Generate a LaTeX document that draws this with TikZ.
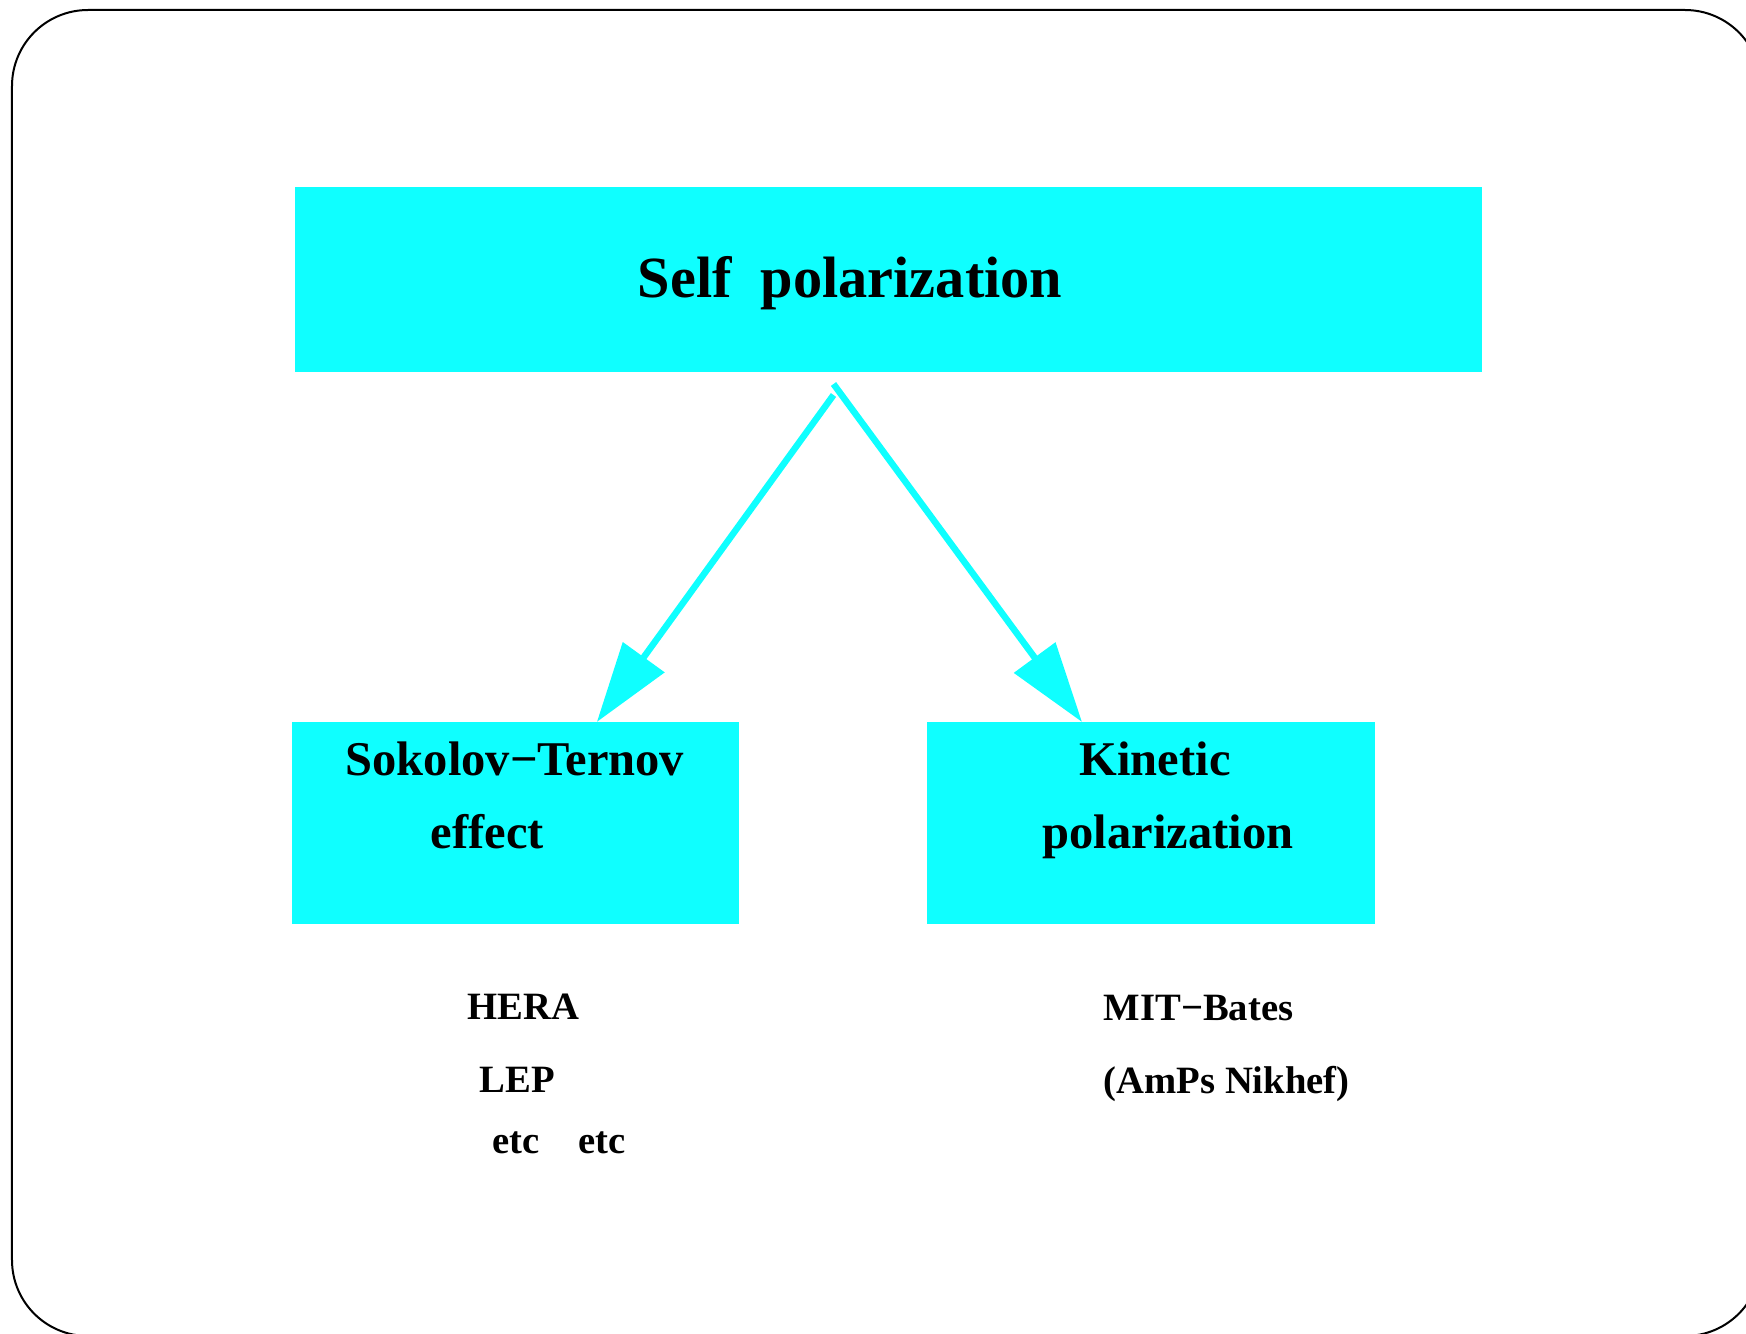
\documentclass[tikz,border=0pt]{standalone}
\usepackage{fontspec}
\setmainfont{Liberation Serif}
\usepackage{xcolor}
\usetikzlibrary{arrows.meta}
\usetikzlibrary{calc}
\definecolor{boxcyan}{RGB}{15,255,255}

\begin{document}
\begin{tikzpicture}[
  box/.style={fill=boxcyan, inner sep=0pt, outer sep=0pt},
  flow/.style={draw=boxcyan, fill=boxcyan, line width=0.065cm, -{Triangle[length=0.8cm,width=0.5cm]}},
  bigtext/.style={anchor=base west, inner sep=0pt, font=\bfseries\fontsize{16.6}{20}\selectfont},
  boxtext/.style={anchor=base west, inner sep=0pt, font=\bfseries\fontsize{13.8}{16}\selectfont},
  smalltext/.style={anchor=base west, inner sep=0pt, font=\bfseries\fontsize{11}{13}\selectfont}]
\useasboundingbox (0,0) rectangle (17.46,-13.34);
\draw[line width=0.02cm, rounded corners=0.76cm] (0.12,-0.10) rectangle (17.61,-13.36);

\node[box, minimum width=11.87cm, minimum height=1.85cm] (self) at (8.885,-2.795) {};
\node[box, minimum width=4.47cm, minimum height=2.02cm] (st) at (5.155,-8.23) {};
\node[box, minimum width=4.48cm, minimum height=2.02cm] (kin) at (11.51,-8.23) {};

\node[bigtext] (selftxt) at (6.37,-2.98) {Self~~polarization};
\node[boxtext] (sttxt) at (3.45,-7.75) {Sokolov−Ternov};
\node[boxtext] (efftxt) at (4.30,-8.48) {effect};
\node[boxtext] (kintxt) at (10.79,-7.75) {Kinetic};
\node[boxtext] (poltxt) at (10.42,-8.48) {polarization};

\node[smalltext] (hera) at (4.67,-10.19) {HERA};
\node[smalltext] (lep) at (4.79,-10.92) {LEP};
\node[smalltext] (etc) at (4.92,-11.53) {etc\quad{}etc};
\node[smalltext] (bates) at (11.03,-10.20) {MIT−Bates};
\node[smalltext] (amps) at (11.03,-10.93) {(AmPs Nikhef)};

\coordinate (fork) at (8.335,-3.84);
\draw[flow] ([yshift=-0.11cm]fork) -- ($(st.north west)!0.682!(st.north east)$);
\draw[flow] (fork) -- ($(kin.north west)!0.346!(kin.north east)$);
\end{tikzpicture}
\end{document}
